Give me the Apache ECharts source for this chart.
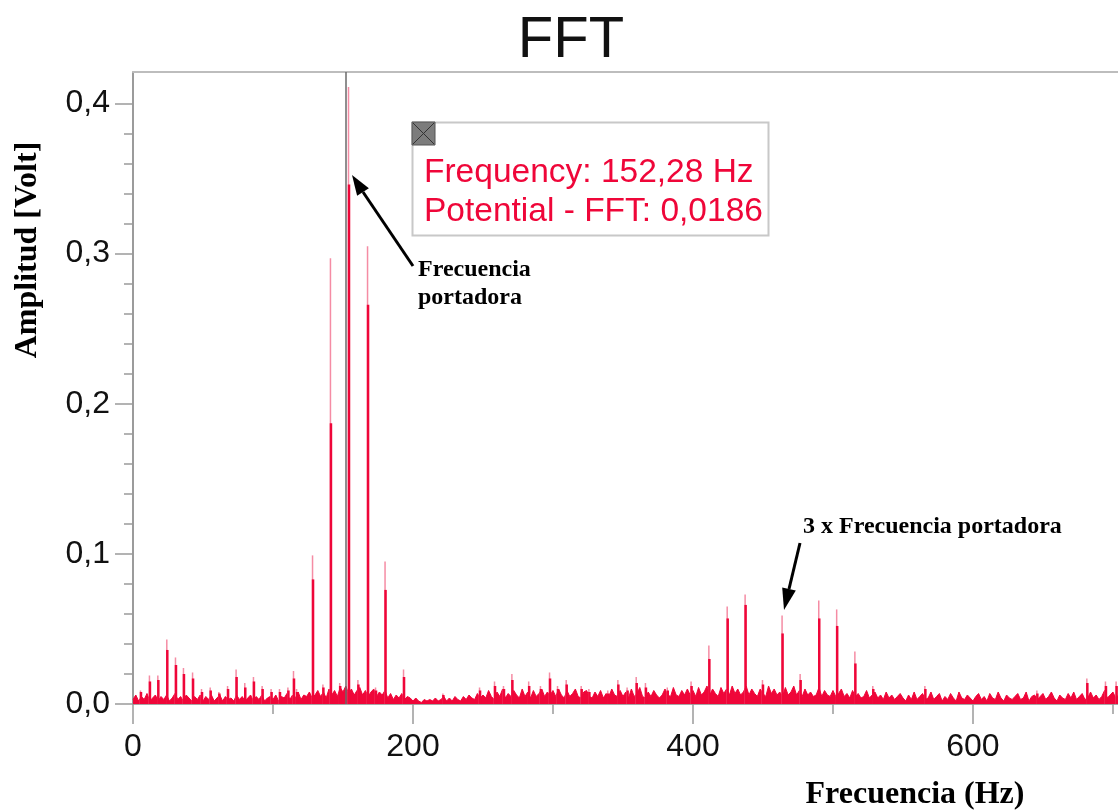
<!DOCTYPE html>
<html>
<head>
<meta charset="utf-8">
<title>FFT</title>
<script src="https://cdn.jsdelivr.net/npm/echarts@6/dist/echarts.min.js"></script>
<style>
html, body { margin: 0; padding: 0; background: #fff; }
#chart { width: 1118px; height: 811px; }
</style>
</head>
<body>
<div id="chart"></div>
<script>
var byId = function(id) {
	return document.getElementById(id);
};

// noise floor, one value every 2 Hz starting at 0 Hz
var noiseStep = 2;
var noiseFloor = [
	0.003,0.006,0.002,0.005,0.003,0.007,0.002,0.004,0.006,0.002,0.005,0.003,0.006,0.002,0.004,0.007,0.003,0.005,0.002,0.006,0.004,0.002,0.005,0.003,0.006,
	0.002,0.005,0.003,0.006,0.002,0.004,0.006,0.002,0.005,0.003,0.004,0.002,0.006,0.003,0.005,0.002,0.004,0.006,0.002,0.005,0.003,0.006,0.002,0.004,0.005,
	0.003,0.006,0.002,0.005,0.004,0.007,0.003,0.006,0.004,0.008,0.003,0.006,0.005,0.008,0.004,0.006,0.009,0.005,0.008,0.004,0.010,0.006,0.009,0.005,0.011,
	0.008,0.012,0.007,0.010,0.006,0.009,0.011,0.006,0.009,0.005,0.008,0.010,0.005,0.008,0.006,0.009,0.004,0.007,0.003,0.006,0.004,0.007,0.003,0.005,0.004,
	0.002,0.004,0.002,0.001,0.003,0.002,0.003,0.002,0.004,0.002,0.003,0.005,0.002,0.004,0.002,0.005,0.003,0.002,0.005,0.003,0.006,0.004,0.003,0.007,0.004,
	0.006,0.004,0.009,0.005,0.003,0.008,0.005,0.010,0.004,0.007,0.005,0.009,0.006,0.004,0.010,0.005,0.008,0.004,0.009,0.005,0.007,0.010,0.005,0.008,0.006,
	0.009,0.005,0.010,0.006,0.004,0.009,0.005,0.007,0.010,0.005,0.004,0.008,0.009,0.005,0.004,0.008,0.005,0.009,0.004,0.007,0.005,0.010,0.006,0.005,0.009,
	0.005,0.008,0.004,0.010,0.005,0.007,0.011,0.005,0.004,0.008,0.005,0.009,0.006,0.004,0.006,0.010,0.006,0.005,0.011,0.006,0.005,0.009,0.006,0.010,0.006,
	0.009,0.005,0.011,0.006,0.008,0.012,0.006,0.010,0.007,0.005,0.011,0.007,0.010,0.006,0.012,0.007,0.010,0.006,0.008,0.012,0.006,0.010,0.007,0.005,0.010,
	0.007,0.005,0.012,0.007,0.010,0.006,0.008,0.005,0.011,0.006,0.008,0.012,0.006,0.009,0.005,0.010,0.006,0.008,0.005,0.006,0.011,0.005,0.009,0.006,0.005,
	0.009,0.005,0.007,0.010,0.005,0.007,0.004,0.009,0.005,0.007,0.004,0.005,0.009,0.004,0.006,0.008,0.004,0.006,0.003,0.008,0.004,0.006,0.003,0.005,0.007,
	0.004,0.002,0.006,0.003,0.008,0.003,0.005,0.007,0.003,0.004,0.008,0.003,0.005,0.007,0.002,0.005,0.003,0.007,0.004,0.002,0.008,0.004,0.003,0.006,0.004,
	0.002,0.005,0.007,0.003,0.005,0.002,0.007,0.004,0.003,0.008,0.004,0.002,0.006,0.004,0.003,0.005,0.007,0.003,0.004,0.008,0.002,0.005,0.006,0.003,0.005,
	0.007,0.003,0.005,0.008,0.004,0.002,0.006,0.004,0.003,0.007,0.004,0.008,0.003,0.005,0.007,0.003,0.004,0.008,0.004,0.006,0.003,0.005,0.009,0.004,0.006,
	0.008,0.004,0.006
];

// spectral lines: frequency (Hz), peak amplitude, and the solid lower part of the line
var peakFreq = [5.7,12.1,18.1,24.5,30.7,36.4,42.9,49.3,55.5,61.7,67.9,74.0,80.2,86.4,92.6,99.0,105.0,111.0,115.0,117.2,
	128.6,136.0,141.4,148.0,154.3,161.0,167.9,173.6,180.4,193.6,
	221.7,247.9,258.6,265.0,271.0,283.0,291.4,297.9,303.6,309.8,320.5,326.0,339.5,346.7,353.3,359.8,366.4,382.0,399.0,
	411.7,424.8,437.6,450.0,464.0,476.9,490.2,503.0,516.0,528.8,566.0,646.0,681.7,695.0,702.6];
var peakAmp = [0.009,0.019,0.019,0.043,0.031,0.024,0.021,0.010,0.011,0.008,0.012,0.023,0.014,0.018,0.012,0.010,0.010,0.011,0.022,0.010,
	0.099,0.013,0.297,0.014,0.411,0.016,0.305,0.011,0.095,0.023,
	0.007,0.011,0.015,0.012,0.020,0.015,0.012,0.021,0.012,0.016,0.012,0.010,0.009,0.016,0.011,0.018,0.014,0.011,0.015,
	0.039,0.065,0.073,0.016,0.059,0.020,0.069,0.063,0.035,0.012,0.012,0.009,0.017,0.015,0.015];
var peakBody = [0.008,0.015,0.016,0.036,0.026,0.020,0.017,0.008,0.009,0.007,0.010,0.018,0.011,0.015,0.010,0.008,0.008,0.009,0.017,0.008,
	0.083,0.011,0.187,0.012,0.346,0.013,0.266,0.009,0.076,0.018,
	0.006,0.009,0.012,0.010,0.016,0.012,0.010,0.017,0.010,0.013,0.010,0.008,0.007,0.013,0.009,0.014,0.011,0.009,0.012,
	0.030,0.057,0.066,0.013,0.047,0.016,0.057,0.052,0.027,0.010,0.010,0.007,0.014,0.012,0.012];

var xMajor = [0, 200, 400, 600];
var xMinor = [100, 300, 500, 700];
var yMajor = [0, 0.1, 0.2, 0.3, 0.4];
var yMinor = [0.02,0.04,0.06,0.08,0.12,0.14,0.16,0.18,0.22,0.24,0.26,0.28,0.32,0.34,0.36,0.38];
var xMax = 703.6;
var yMax = 0.421;
var cursorFreq = 152.28;
var cursorText = ['Frequency: 152,28 Hz', 'Potential - FFT: 0,0186'];

var red = '#ef0639';
var pink = '#f58ca4';
var sans = '"Liberation Sans", Arial, sans-serif';
var serif = '"Liberation Serif", "Times New Roman", serif';

function buildNoise()
{
	var pts = [];
	for (var i = 0; i < noiseFloor.length; i++) {
		pts.push([i * noiseStep, noiseFloor[i]]);
	}
	return pts;
}

function buildPeaks(values)
{
	var pts = [];
	for (var i = 0; i < peakFreq.length; i++) {
		pts.push([peakFreq[i], values[i]]);
	}
	return pts;
}

function fmtComma(v)
{
	return v.toFixed(1).replace('.', ',');
}

function arrow(tail, base, tip, half)
{
	var dx = tip[0] - base[0], dy = tip[1] - base[1];
	var len = Math.sqrt(dx * dx + dy * dy);
	var nx = -dy / len * half, ny = dx / len * half;
	return [{
		type: 'line',
		shape: { x1: tail[0], y1: tail[1], x2: base[0], y2: base[1] },
		style: { stroke: '#000', lineWidth: 3 }
	}, {
		type: 'polygon',
		shape: { points: [tip, [base[0] + nx, base[1] + ny], [base[0] - nx, base[1] - ny]] },
		style: { fill: '#000' }
	}];
}

var gridBox = { left: 133, top: 72, right: 0, bottom: 107 };

var graphics = [
	{ type: 'text', x: 571, y: 41, style: { text: 'FFT', font: '58px ' + sans, fill: '#111', textAlign: 'center', textVerticalAlign: 'middle' } },
	{ type: 'text', x: 28, y: 250, rotation: Math.PI / 2, style: { text: 'Amplitud [Volt]', font: 'bold 32px ' + serif, fill: '#000', textAlign: 'center', textVerticalAlign: 'middle' } },
	{ type: 'text', x: 915, y: 795, style: { text: 'Frecuencia (Hz)', font: 'bold 32px ' + serif, fill: '#000', textAlign: 'center', textVerticalAlign: 'middle' } },
	{ type: 'text', x: 418, y: 270, style: { text: 'Frecuencia', font: 'bold 24px ' + serif, fill: '#000', textVerticalAlign: 'middle' } },
	{ type: 'text', x: 418, y: 298, style: { text: 'portadora', font: 'bold 24px ' + serif, fill: '#000', textVerticalAlign: 'middle' } },
	{ type: 'text', x: 803, y: 527, style: { text: '3 x Frecuencia portadora', font: 'bold 24px ' + serif, fill: '#000', textVerticalAlign: 'middle' } },
	// cursor readout box
	{ type: 'rect', shape: { x: 412.5, y: 122.5, width: 356, height: 113 }, style: { fill: '#fff', stroke: '#c8c8c8', lineWidth: 2 } },
	{ type: 'rect', shape: { x: 412, y: 122, width: 23, height: 23 }, style: { fill: '#7c7c7c', stroke: '#555', lineWidth: 1 } },
	{ type: 'line', shape: { x1: 413, y1: 123, x2: 434, y2: 144 }, style: { stroke: '#333', lineWidth: 1 } },
	{ type: 'line', shape: { x1: 434, y1: 123, x2: 413, y2: 144 }, style: { stroke: '#333', lineWidth: 1 } },
	{ type: 'text', x: 424, y: 173, style: { text: cursorText[0], font: '33.5px ' + sans, fill: red, textVerticalAlign: 'middle' } },
	{ type: 'text', x: 424, y: 212, style: { text: cursorText[1], font: '33.5px ' + sans, fill: red, textVerticalAlign: 'middle' } }
];
graphics = graphics.concat(arrow([413, 266], [363, 192], [352, 175], 7));
graphics = graphics.concat(arrow([800, 543], [789, 589], [784, 610], 7));

var option = {
	animation: false,
	backgroundColor: '#fff',
	grid: gridBox,
	xAxis: [{
		type: 'value', min: 0, max: xMax, interval: 200, position: 'bottom',
		axisLine: { show: true, lineStyle: { color: '#8a8a8a', width: 1.5 } },
		axisTick: { show: true, length: 20, customValues: xMajor, lineStyle: { color: '#9a9a9a', width: 1.5 } },
		axisLabel: { customValues: xMajor, margin: 27, fontSize: 32, fontFamily: sans, color: '#111' },
		splitLine: { show: false }
	}, {
		type: 'value', min: 0, max: xMax, position: 'bottom',
		axisLine: { show: false },
		axisTick: { show: true, length: 10, customValues: xMinor, lineStyle: { color: '#9a9a9a', width: 1.5 } },
		axisLabel: { show: false },
		splitLine: { show: false }
	}, {
		type: 'value', min: 0, max: xMax, position: 'top',
		axisLine: { show: true, lineStyle: { color: '#bdbdbd', width: 2 } },
		axisTick: { show: false }, axisLabel: { show: false }, splitLine: { show: false }
	}],
	yAxis: [{
		type: 'value', min: 0, max: yMax, interval: 0.1,
		axisLine: { show: true, lineStyle: { color: '#7a7a7a', width: 1.5 } },
		axisTick: { show: true, length: 18, customValues: yMajor, lineStyle: { color: '#9a9a9a', width: 1.5 } },
		axisLabel: { customValues: yMajor, margin: 23, fontSize: 32, fontFamily: sans, color: '#111', formatter: fmtComma },
		splitLine: { show: false }
	}, {
		type: 'value', min: 0, max: yMax, position: 'left',
		axisLine: { show: false },
		axisTick: { show: true, length: 9, customValues: yMinor, lineStyle: { color: '#9a9a9a', width: 1.5 } },
		axisLabel: { show: false },
		splitLine: { show: false }
	}],
	graphic: graphics,
	series: [{
		name: 'noise',
		type: 'line',
		data: buildNoise(),
		symbol: 'none',
		lineStyle: { color: red, width: 1 },
		areaStyle: { color: red, opacity: 1 },
		markLine: {
			silent: true,
			symbol: 'none',
			label: { show: false },
			lineStyle: { color: '#6a6a6a', width: 1.5, type: 'solid' },
			data: [{ xAxis: cursorFreq }]
		},
		z: 2
	}, {
		name: 'tip',
		type: 'bar',
		data: buildPeaks(peakAmp),
		barWidth: 1.5,
		barGap: '-100%',
		itemStyle: { color: pink },
		z: 3
	}, {
		name: 'body',
		type: 'bar',
		data: buildPeaks(peakBody),
		barWidth: 2.5,
		barGap: '-100%',
		itemStyle: { color: red },
		z: 4
	}]
};

var chart = echarts.init(byId('chart'));
chart.setOption(option);
</script>
</body>
</html>
